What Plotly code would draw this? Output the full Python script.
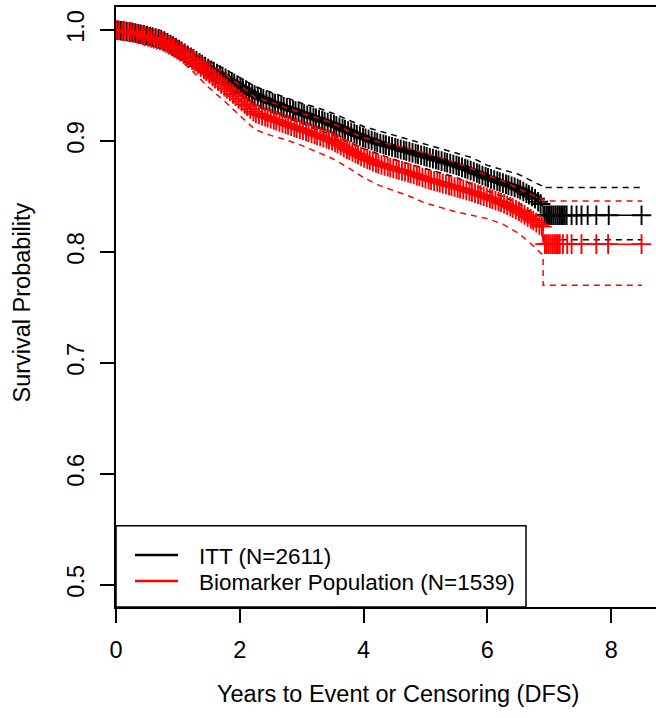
import numpy as np
import plotly.graph_objects as go

# ---------------- data ----------------
# ITT (N=2611) Kaplan-Meier estimate and 95% CI
itt_t = [0.0, 0.25, 0.5, 0.75, 1.0, 1.25, 1.5, 1.75, 2.0, 2.25, 2.5, 2.75, 3.0, 3.25, 3.5, 3.75,
         4.0, 4.25, 4.5, 4.75, 5.0, 5.25, 5.5, 5.75, 6.0, 6.25, 6.5, 6.75, 6.9, 6.9, 8.5]
itt_s = [1.000, 0.998, 0.995, 0.991, 0.983, 0.974, 0.965, 0.957, 0.949, 0.941, 0.935, 0.930, 0.925,
         0.920, 0.915, 0.909, 0.903, 0.898, 0.894, 0.890, 0.886, 0.882, 0.878, 0.873, 0.867, 0.862,
         0.857, 0.849, 0.841, 0.833, 0.833]
itt_up = [1.000, 1.000, 0.998, 0.995, 0.988, 0.980, 0.972, 0.965, 0.957, 0.949, 0.944, 0.939, 0.934,
          0.930, 0.925, 0.919, 0.913, 0.909, 0.905, 0.901, 0.897, 0.893, 0.889, 0.885, 0.878, 0.874,
          0.870, 0.863, 0.859, 0.858, 0.858]
itt_lo = [1.000, 0.996, 0.992, 0.987, 0.978, 0.968, 0.958, 0.949, 0.941, 0.932, 0.926, 0.921, 0.916,
          0.910, 0.905, 0.899, 0.893, 0.888, 0.883, 0.879, 0.875, 0.871, 0.867, 0.861, 0.855, 0.850,
          0.844, 0.834, 0.822, 0.811, 0.811]
itt_cens = [0.03, 0.08, 0.12, 0.17, 0.22, 0.26, 0.31, 0.36, 0.40, 0.45, 0.50, 0.55, 0.59, 0.64, 0.69,
            0.73, 0.78, 0.83, 0.88, 0.92, 0.97, 1.02, 1.06, 1.11, 1.16, 1.21, 1.25, 1.30, 1.35, 1.39,
            1.44, 1.49, 1.54, 1.58, 1.63, 1.68, 1.72, 1.77, 1.82, 1.87, 1.91, 1.96, 2.01, 2.05, 2.10,
            2.15, 2.20, 2.24, 2.29, 2.34, 2.38, 2.43, 2.48, 2.53, 2.57, 2.62, 2.67, 2.71, 2.76, 2.81,
            2.86, 2.90, 2.95, 3.00, 3.04, 3.09, 3.14, 3.19, 3.23, 3.28, 3.33, 3.37, 3.42, 3.47, 3.52,
            3.56, 3.61, 3.66, 3.70, 3.75, 3.80, 3.85, 3.89, 3.94, 3.99, 4.03, 4.08, 4.13, 4.18, 4.22,
            4.27, 4.32, 4.36, 4.41, 4.46, 4.51, 4.55, 4.60, 4.65, 4.69, 4.74, 4.79, 4.84, 4.88, 4.93,
            4.98, 5.02, 5.07, 5.12, 5.17, 5.21, 5.26, 5.31, 5.35, 5.40, 5.45, 5.50, 5.54, 5.59, 5.64,
            5.68, 5.73, 5.78, 5.83, 5.87, 5.92, 5.97, 6.01, 6.06, 6.11, 6.16, 6.20, 6.25, 6.30, 6.34,
            6.39, 6.44, 6.49, 6.53, 6.58, 6.63, 6.67, 6.72, 6.77, 6.82, 6.86, 6.92, 6.95, 6.98, 7.01,
            7.04, 7.07, 7.10, 7.13, 7.16, 7.19, 7.22, 7.25, 7.28, 7.36, 7.44, 7.52, 7.62, 7.76, 7.96,
            8.49]

# Biomarker population (N=1539)
bio_t = [0.0, 0.25, 0.5, 0.75, 1.0, 1.25, 1.5, 1.75, 2.0, 2.25, 2.5, 2.75, 3.0, 3.25, 3.5, 3.75,
         4.0, 4.25, 4.5, 4.75, 5.0, 5.25, 5.5, 5.75, 6.0, 6.25, 6.5, 6.75, 6.9, 6.9, 8.5]
bio_s = [1.000, 0.998, 0.994, 0.990, 0.982, 0.972, 0.961, 0.949, 0.937, 0.925, 0.920, 0.915, 0.910,
         0.905, 0.900, 0.892, 0.885, 0.879, 0.875, 0.871, 0.866, 0.862, 0.858, 0.854, 0.849, 0.844,
         0.837, 0.828, 0.822, 0.807, 0.807]
bio_up = [1.000, 1.000, 0.998, 0.995, 0.989, 0.981, 0.971, 0.961, 0.950, 0.939, 0.935, 0.930, 0.925,
          0.921, 0.916, 0.909, 0.903, 0.899, 0.896, 0.893, 0.889, 0.885, 0.880, 0.875, 0.869, 0.864,
          0.857, 0.851, 0.847, 0.846, 0.846]
bio_lo = [1.000, 0.995, 0.990, 0.984, 0.975, 0.962, 0.948, 0.936, 0.923, 0.910, 0.905, 0.901, 0.896,
          0.890, 0.884, 0.876, 0.867, 0.860, 0.855, 0.850, 0.844, 0.840, 0.836, 0.833, 0.830, 0.825,
          0.817, 0.805, 0.797, 0.770, 0.770]
bio_cens = [0.01, 0.05, 0.10, 0.14, 0.19, 0.24, 0.28, 0.33, 0.38, 0.43, 0.47, 0.52, 0.57, 0.61, 0.66,
            0.71, 0.76, 0.80, 0.85, 0.90, 0.94, 0.99, 1.04, 1.09, 1.13, 1.18, 1.23, 1.27, 1.32, 1.37,
            1.42, 1.46, 1.51, 1.56, 1.60, 1.65, 1.70, 1.75, 1.79, 1.84, 1.89, 1.93, 1.98, 2.03, 2.08,
            2.12, 2.17, 2.22, 2.26, 2.31, 2.36, 2.41, 2.45, 2.50, 2.55, 2.59, 2.64, 2.69, 2.74, 2.78,
            2.83, 2.88, 2.92, 2.97, 3.02, 3.07, 3.11, 3.16, 3.21, 3.25, 3.30, 3.35, 3.40, 3.44, 3.49,
            3.54, 3.58, 3.63, 3.68, 3.73, 3.77, 3.82, 3.87, 3.91, 3.96, 4.01, 4.06, 4.10, 4.15, 4.20,
            4.24, 4.29, 4.34, 4.39, 4.43, 4.48, 4.53, 4.57, 4.62, 4.67, 4.72, 4.76, 4.81, 4.86, 4.90,
            4.95, 5.00, 5.05, 5.09, 5.14, 5.19, 5.23, 5.28, 5.33, 5.38, 5.42, 5.47, 5.52, 5.56, 5.61,
            5.66, 5.71, 5.75, 5.80, 5.85, 5.89, 5.94, 5.99, 6.04, 6.08, 6.13, 6.18, 6.22, 6.27, 6.32,
            6.37, 6.41, 6.46, 6.51, 6.55, 6.60, 6.65, 6.70, 6.74, 6.79, 6.84, 6.88, 6.93, 6.96, 6.99,
            7.02, 7.05, 7.08, 7.11, 7.14, 7.17, 7.22, 7.29, 7.36, 7.52, 7.76, 7.95, 8.49]

legend_labels = ["ITT (N=2611)", "Biomarker Population (N=1539)"]
colors = ["#000000", "#ff0000"]
x_ticks = [0, 2, 4, 6, 8]
y_ticks = [0.5, 0.6, 0.7, 0.8, 0.9, 1.0]

FONT = "Liberation Sans, Arial, Helvetica, sans-serif"
FS = 23.5
FS_LEG = 22.5

fig = go.Figure()

groups = [
    (itt_t, itt_s, itt_up, itt_lo, itt_cens, colors[0]),
    (bio_t, bio_s, bio_up, bio_lo, bio_cens, colors[1]),
]

for t, s, up, lo, cens, col in groups:
    for band in (up, lo):
        fig.add_trace(go.Scatter(x=t, y=band, mode="lines",
                                 line=dict(color=col, width=1.5, dash="6px,5px"),
                                 showlegend=False, hoverinfo="skip"))
    fig.add_trace(go.Scatter(x=t, y=s, mode="lines",
                             line=dict(color=col, width=1.5),
                             showlegend=False, hoverinfo="skip"))
    cy = np.interp(np.array(cens), np.array(t), np.array(s))
    fig.add_trace(go.Scatter(x=cens, y=cy, mode="markers",
                             marker=dict(symbol="cross-thin", size=14,
                                         line=dict(color=col, width=1.9)),
                             showlegend=False, hoverinfo="skip"))

# Plot area geometry (pixels) used for legend/titles placement
L, R, T, B = 116, 656, 7, 607
W, H = R - L, B - T

def px(x):
    return (x - L) / W

def py(y):
    return (B - y) / H

# Legend box (manual, R-style)
fig.add_shape(type="rect", xref="paper", yref="paper",
              x0=px(116), x1=px(526), y0=py(607), y1=py(525.7),
              line=dict(color="black", width=1.5), fillcolor="white", layer="above")
for i, (lab, col) in enumerate(zip(legend_labels, colors)):
    yy = [555, 581][i]
    fig.add_shape(type="line", xref="paper", yref="paper",
                  x0=px(135), x1=px(178), y0=py(yy), y1=py(yy),
                  line=dict(color=col, width=2.5), layer="above")
    fig.add_annotation(x=px(197), y=py(yy + 1), xref="paper", yref="paper",
                       text=lab, showarrow=False, xanchor="left", yanchor="middle",
                       font=dict(family=FONT, size=FS_LEG, color="black"))

# Axis titles
fig.add_annotation(x=px(398), y=py(694), xref="paper", yref="paper",
                   text="Years to Event or Censoring (DFS)", showarrow=False,
                   xanchor="center", yanchor="middle",
                   font=dict(family=FONT, size=FS, color="black"))
fig.add_annotation(x=px(21), y=py(302.5), xref="paper", yref="paper",
                   text="Survival Probability", showarrow=False, textangle=-90,
                   xanchor="center", yanchor="middle",
                   font=dict(family=FONT, size=FS, color="black"))

fig.update_xaxes(range=[0, 540 / 61.9], tickvals=x_ticks, ticktext=[str(v) for v in x_ticks],
                 showgrid=False, zeroline=False, showline=True, linecolor="black", linewidth=1.5,
                 mirror=True, ticks="outside", ticklen=14, tickwidth=1.5, tickcolor="black",
                 tickfont=dict(family=FONT, size=FS, color="black"), ticklabelstandoff=7)
fig.update_yaxes(range=[0.48, 1.0 + 23 / 1110], tickvals=y_ticks,
                 ticktext=["%.1f" % v for v in y_ticks],
                 showgrid=False, zeroline=False, showline=True, linecolor="black", linewidth=1.5,
                 ticks="outside", ticklen=14, tickwidth=1.5, tickcolor="black", tickangle=-90,
                 tickfont=dict(family=FONT, size=FS, color="black"), ticklabelstandoff=7)

fig.update_layout(width=656, height=718, margin=dict(l=L, r=0, t=T, b=718 - B),
                  plot_bgcolor="white", paper_bgcolor="white", showlegend=False)

fig.write_html("out.html")
